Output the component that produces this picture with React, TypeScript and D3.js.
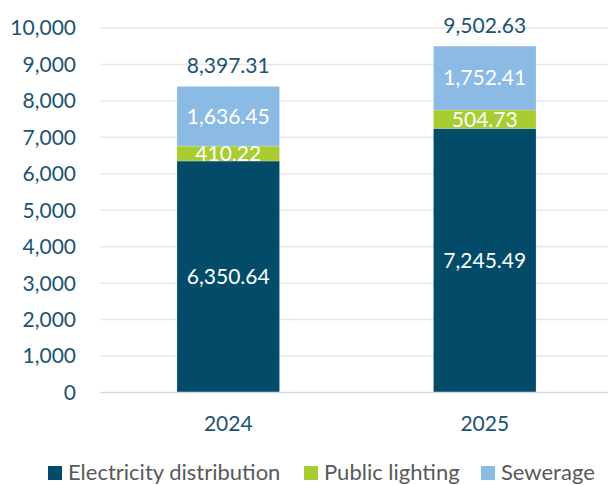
import { useEffect, useRef } from "react";
import * as d3 from "d3";

const years = ["2024", "2025"];
const seriesNames = ["Electricity distribution", "Public lighting", "Sewerage"];
const electricity = [6350.64, 7245.49];
const lighting = [410.22, 504.73];
const sewerage = [1636.45, 1752.41];
const totals = [8397.31, 9502.63];
const yTicks = [0, 1000, 2000, 3000, 4000, 5000, 6000, 7000, 8000, 9000, 10000];
const colors = ["#024c69", "#a9cc33", "#8bbae5"];

function App() {
  const svgRef = useRef<SVGSVGElement | null>(null);
  const width = 608;
  const height = 485;
  const font = "Lato, 'Open Sans', sans-serif";
  const fontSize = 21;
  const textColor = "#1b5372";

  useEffect(() => {
    const svg = d3.select(svgRef.current);
    svg.selectAll("*").remove();

    const x = d3
      .scaleBand()
      .domain(years)
      .range([100, 613])
      .paddingInner(0.6)
      .paddingOuter(0.3);
    const y = d3.scaleLinear().domain([0, 10000]).range([392.5, 28]);

    // gridlines
    svg
      .append("g")
      .selectAll("line")
      .data(yTicks.filter((t) => t > 0))
      .join("line")
      .attr("x1", 100)
      .attr("x2", width)
      .attr("y1", (d) => y(d))
      .attr("y2", (d) => y(d))
      .attr("stroke", "#ede6e4")
      .attr("stroke-width", 1.5);

    // y labels
    svg
      .append("g")
      .selectAll("text")
      .data(yTicks)
      .join("text")
      .attr("x", 76)
      .attr("y", (d) => y(d))
      .attr("dy", "0.35em")
      .attr("text-anchor", "end")
      .attr("font-family", font)
      .attr("font-size", fontSize)
      .attr("fill", textColor)
      .text((d) => d3.format(",")(d));

    const rows = years.map((yr, i) => ({
      year: yr,
      e: electricity[i],
      l: lighting[i],
      s: sewerage[i],
    }));
    const stack = d3.stack<any>().keys(["e", "l", "s"])(rows);

    stack.forEach((layer, k) => {
      const g = svg.append("g");
      g.selectAll("rect")
        .data(layer)
        .join("rect")
        .attr("x", (d: any) => x(d.data.year) as number)
        .attr("width", x.bandwidth())
        .attr("y", (d) => y(d[1]))
        .attr("height", (d) => y(d[0]) - y(d[1]))
        .attr("fill", colors[k])
        .attr("stroke", "#ffffff")
        .attr("stroke-opacity", 0.35)
        .attr("stroke-width", 0.6);
      g.selectAll("text")
        .data(layer)
        .join("text")
        .attr("x", (d: any) => (x(d.data.year) as number) + x.bandwidth() / 2)
        .attr("y", (d) => y((d[0] + d[1]) / 2))
        .attr("dy", "0.35em")
        .attr("text-anchor", "middle")
        .attr("font-family", font)
        .attr("font-size", fontSize)
        .attr("fill", "#ffffff")
        .text((d) => d3.format(",.2f")(d[1] - d[0]));
    });

    // axis baseline
    svg
      .append("line")
      .attr("x1", 100)
      .attr("x2", width)
      .attr("y1", y(0))
      .attr("y2", y(0))
      .attr("stroke", "#d9d9d9")
      .attr("stroke-width", 1.5);

    // totals
    svg
      .append("g")
      .selectAll("text")
      .data(totals)
      .join("text")
      .attr("x", (d, i) => (x(years[i]) as number) + x.bandwidth() / 2)
      .attr("y", (d) => y(d) - 13)
      .attr("text-anchor", "middle")
      .attr("font-family", font)
      .attr("font-size", fontSize)
      .attr("fill", textColor)
      .text((d) => d3.format(",.2f")(d));

    // x labels
    svg
      .append("g")
      .selectAll("text")
      .data(years)
      .join("text")
      .attr("x", (d) => (x(d) as number) + x.bandwidth() / 2)
      .attr("y", 431)
      .attr("text-anchor", "middle")
      .attr("font-family", font)
      .attr("font-size", fontSize)
      .attr("fill", textColor)
      .text((d) => d);

    // legend (reference is clipped at the bottom; kept just inside here)
    const legendX = [48, 304, 481];
    const legend = svg
      .append("g")
      .selectAll("g")
      .data(seriesNames)
      .join("g")
      .attr("transform", (d, i) => `translate(${legendX[i]}, 0)`);
    legend
      .append("rect")
      .attr("x", 0)
      .attr("y", 466)
      .attr("width", 14)
      .attr("height", 14)
      .attr("fill", (d, i) => colors[i]);
    legend
      .append("text")
      .attr("x", 20)
      .attr("y", 480)
      .attr("font-family", font)
      .attr("font-size", 22)
      .attr("fill", "#595959")
      .text((d) => d);
  }, []);

  return (
    <svg
      ref={svgRef}
      width={width}
      height={height}
      style={{ position: "absolute", left: 0, top: 0, background: "#ffffff" }}
    ></svg>
  );
}

export default App;
